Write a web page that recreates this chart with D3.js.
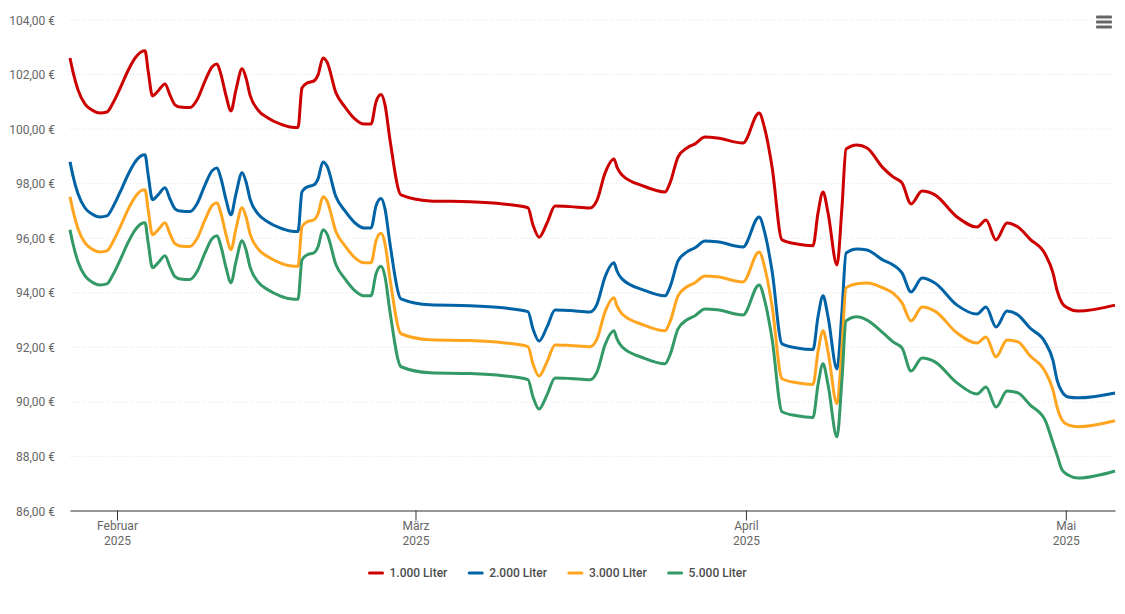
<!DOCTYPE html>
<html>
<head>
<meta charset="utf-8">
<script src="https://cdn.jsdelivr.net/npm/d3@7"></script>
<style>
  body { margin: 0; background: #fff; font-family: Roboto, sans-serif; }
  .y-axis text, .x-axis text { font-size: 12px; fill: #666; font-family: Roboto, sans-serif; }
  .legend text { font-size: 12px; font-weight: 500; fill: #4d4d4d; font-family: Roboto, sans-serif; }
</style>
</head>
<body>
<div id="chart"></div>
<script>
// days counted from 1 Feb 2025, same for all four series
const days = [
  -4.41,-4.13,-3.66,-3.00,-2.35,-1.59,-0.94,-0.38,0.28,1.03,
  1.69,2.25,2.63,2.91,3.33,3.85,4.50,4.97,5.44,5.91,
  6.85,7.50,8.26,8.91,9.38,9.76,10.23,10.69,11.16,11.73,
  12.10,12.48,13.23,14.16,15.29,16.23,16.98,17.35,17.82,18.48,
  18.86,19.32,19.70,20.54,21.39,22.33,23.17,23.83,24.30,24.77,
  25.14,25.61,26.64,29.36,33.11,36.21,38.55,39.02,39.59,40.34,
  41.09,42.50,44.37,45.03,45.78,46.62,46.90,47.37,49.34,51.41,
  51.88,52.63,53.47,54.22,55.16,56.29,58.72,60.23,60.79,61.45,
  62.38,63.79,65.29,65.76,66.23,66.70,67.54,68.01,68.39,69.42,
  70.36,71.86,72.80,73.64,74.49,75.52,76.73,78.80,80.68,81.52,
  82.46,83.49,84.52,85.65,87.05,87.80,88.18,88.65,89.21,90.15,93.62
];

const liter1000 = [
  102.59,102.08,101.42,100.90,100.68,100.57,100.61,100.94,101.47,102.12,
  102.58,102.81,102.85,102.15,101.20,101.38,101.64,101.23,100.87,100.79,
  100.77,101.05,101.75,102.26,102.37,101.97,101.20,100.65,101.42,102.19,
  101.86,101.23,100.68,100.39,100.17,100.06,100.04,101.49,101.67,101.75,
  101.97,102.59,102.44,101.31,100.79,100.35,100.17,100.17,100.98,101.25,
  100.87,99.58,97.57,97.35,97.32,97.24,97.10,96.47,96.02,96.54,
  97.16,97.14,97.09,97.38,98.37,98.89,98.59,98.30,97.90,97.68,
  98.01,98.96,99.29,99.44,99.69,99.66,99.47,100.57,99.95,98.59,
  95.92,95.77,95.71,96.91,97.68,96.91,95.00,97.13,99.25,99.40,
  99.29,98.56,98.23,98.01,97.24,97.71,97.57,96.76,96.39,96.65,
  95.92,96.54,96.39,95.95,95.41,94.71,94.08,93.61,93.42,93.31,93.53
];

const liter2000 = [
  98.78,98.27,97.61,97.09,96.87,96.76,96.80,97.13,97.66,98.31,
  98.77,99.00,99.04,98.34,97.39,97.57,97.83,97.42,97.06,96.98,
  96.96,97.24,97.94,98.45,98.56,98.16,97.39,96.84,97.61,98.38,
  98.05,97.42,96.87,96.58,96.36,96.25,96.23,97.68,97.86,97.94,
  98.16,98.78,98.63,97.50,96.98,96.54,96.36,96.36,97.17,97.44,
  97.06,95.77,93.76,93.54,93.51,93.43,93.29,92.66,92.21,92.73,
  93.35,93.33,93.28,93.57,94.56,95.08,94.78,94.49,94.09,93.87,
  94.20,95.15,95.48,95.63,95.88,95.85,95.66,96.76,96.14,94.78,
  92.11,91.96,91.90,93.10,93.87,93.10,91.19,93.32,95.44,95.59,
  95.55,95.18,95.00,94.71,94.01,94.52,94.34,93.53,93.20,93.46,
  92.73,93.31,93.17,92.69,92.18,91.50,90.79,90.35,90.16,90.13,90.31
];

const liter3000 = [
  97.50,96.99,96.33,95.81,95.59,95.48,95.52,95.85,96.38,97.03,
  97.49,97.72,97.76,97.06,96.11,96.29,96.55,96.14,95.78,95.70,
  95.68,95.96,96.66,97.17,97.28,96.88,96.11,95.56,96.33,97.10,
  96.77,96.14,95.59,95.30,95.08,94.97,94.95,96.40,96.58,96.66,
  96.88,97.50,97.35,96.22,95.70,95.26,95.08,95.08,95.89,96.16,
  95.78,94.49,92.48,92.26,92.23,92.15,92.01,91.38,90.93,91.45,
  92.07,92.05,92.00,92.29,93.28,93.80,93.50,93.21,92.81,92.59,
  92.92,93.87,94.20,94.35,94.60,94.57,94.38,95.48,94.86,93.50,
  90.83,90.68,90.62,91.82,92.59,91.82,89.91,92.04,94.16,94.31,
  94.34,94.16,93.97,93.61,92.95,93.46,93.31,92.51,92.14,92.36,
  91.63,92.25,92.18,91.67,91.11,90.42,89.80,89.32,89.14,89.07,89.29
];

const liter5000 = [
  96.29,95.78,95.12,94.60,94.38,94.27,94.31,94.64,95.17,95.82,
  96.28,96.51,96.55,95.85,94.90,95.08,95.34,94.93,94.57,94.49,
  94.47,94.75,95.45,95.96,96.07,95.67,94.90,94.35,95.12,95.89,
  95.56,94.93,94.38,94.09,93.87,93.76,93.74,95.19,95.37,95.45,
  95.67,96.29,96.14,95.01,94.49,94.05,93.87,93.87,94.68,94.95,
  94.57,93.28,91.27,91.05,91.02,90.94,90.80,90.17,89.72,90.24,
  90.86,90.84,90.79,91.08,92.07,92.59,92.29,92.00,91.60,91.38,
  91.71,92.66,92.99,93.14,93.39,93.36,93.17,94.27,93.65,92.29,
  89.62,89.47,89.41,90.61,91.38,90.61,88.70,90.83,92.95,93.10,
  92.98,92.51,92.18,91.96,91.11,91.59,91.45,90.68,90.27,90.53,
  89.79,90.38,90.31,89.87,89.32,88.48,88.04,87.49,87.30,87.19,87.45
];

const seriesNames = ["1.000 Liter", "2.000 Liter", "3.000 Liter", "5.000 Liter"];
const seriesColors = ["#cc0000", "#0063a6", "#ffa51f", "#339966"];
const seriesValues = [liter1000, liter2000, liter3000, liter5000];

const yTicks = [86, 88, 90, 92, 94, 96, 98, 100, 102, 104];
const monthTicks = [["Februar", 0], ["März", 28], ["April", 59], ["Mai", 89]];
const yearLabel = "2025";

const width = 1125, height = 614;
const plotLeft = 70, plotRight = 1115, plotTop = 19.5, plotBottom = 510.5;

const toDate = d => new Date(Date.UTC(2025, 1, 1) + d * 864e5);

const svg = d3.select("#chart")
    .append("svg")
    .attr("width", width)
    .attr("height", height)
    .style("display", "block");

const x = d3.scaleUtc()
    .domain([toDate(days[0]), toDate(days[days.length - 1])])
    .range([plotLeft, plotRight]);

const y = d3.scaleLinear()
    .domain([86, 104])
    .range([plotBottom, plotTop]);

// y axis, tick lines double as the dotted grid
const yAxis = svg.append("g")
    .attr("class", "y-axis")
    .attr("transform", `translate(${plotLeft},0)`)
    .call(d3.axisLeft(y)
        .tickValues(yTicks)
        .tickSize(-(plotRight - plotLeft))
        .tickPadding(15)
        .tickFormat(d => d3.format(".2f")(d).replace(".", ",") + " €"));
yAxis.select(".domain").remove();
yAxis.selectAll("line")
    .attr("stroke", "#e2e2e2")
    .attr("stroke-dasharray", "1 2");
yAxis.selectAll("text").attr("dy", "0.38em");

// x axis with two line labels
const xAxis = svg.append("g")
    .attr("class", "x-axis")
    .attr("transform", `translate(0,${plotBottom})`)
    .call(d3.axisBottom(x)
        .tickValues(monthTicks.map(m => toDate(m[1])))
        .tickSize(10)
        .tickSizeOuter(0)
        .tickFormat(""));
xAxis.select(".domain").attr("stroke", "#333").attr("stroke-width", 1);
xAxis.selectAll("line").attr("stroke", "#333");
xAxis.selectAll(".tick text")
    .data(monthTicks)
    .attr("y", 0)
    .attr("dy", 0)
    .each(function(m) {
        const t = d3.select(this);
        t.append("tspan").attr("x", 0).attr("y", 19.5).text(m[0]);
        t.append("tspan").attr("x", 0).attr("y", 34.5).text(yearLabel);
    });

const line = d3.line()
    .x(d => x(toDate(d[0])))
    .y(d => y(d[1]))
    .curve(d3.curveMonotoneX);

svg.selectAll(".series")
    .data(seriesValues)
    .enter().append("path")
    .attr("class", "series")
    .attr("fill", "none")
    .attr("stroke", (d, i) => seriesColors[i])
    .attr("stroke-width", 3)
    .attr("stroke-linejoin", "round")
    .attr("d", vals => line(vals.map((v, i) => [days[i], v])));

// legend
const legend = svg.selectAll(".legend")
    .data(seriesNames)
    .enter().append("g")
    .attr("class", "legend")
    .attr("transform", (d, i) => `translate(${368 + i * 99.7},573)`);
legend.append("line")
    .attr("x1", 1.5).attr("x2", 14.5)
    .attr("stroke", (d, i) => seriesColors[i])
    .attr("stroke-width", 3)
    .attr("stroke-linecap", "round");
legend.append("text")
    .attr("x", 21.5)
    .attr("y", 4)
    .text(d => d);

// menu icon
svg.selectAll(".menu")
    .data([0, 1, 2])
    .enter().append("rect")
    .attr("class", "menu")
    .attr("x", 1096)
    .attr("y", d => 15.5 + d * 5)
    .attr("width", 16)
    .attr("height", 3)
    .attr("rx", 1)
    .attr("fill", "#666");
</script>
</body>
</html>
